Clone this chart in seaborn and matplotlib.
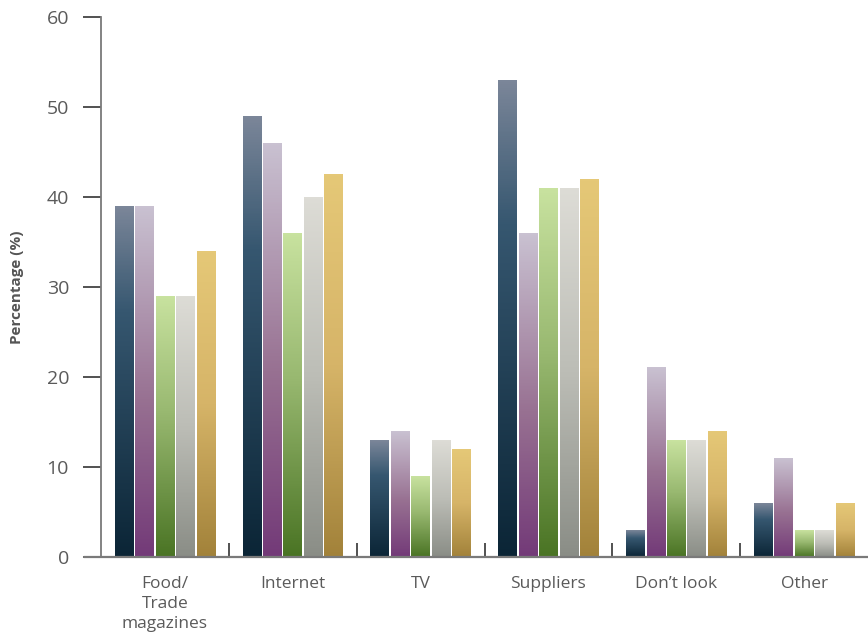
import numpy as np
import pandas as pd
import matplotlib
matplotlib.use("Agg")
import matplotlib.pyplot as plt
import seaborn as sns
from matplotlib.colors import LinearSegmentedColormap
from matplotlib.lines import Line2D

# ---- data ----
categories = ["Food/\nTrade\nmagazines", "Internet", "TV", "Suppliers", "Don\u2019t look", "Other"]
series_names = ["Series 1", "Series 2", "Series 3", "Series 4", "Series 5"]
series_1 = [39, 49, 13, 53, 3, 6]
series_2 = [39, 46, 14, 36, 21, 11]
series_3 = [29, 36, 9, 41, 13, 3]
series_4 = [29, 40, 13, 41, 13, 3]
series_5 = [34, 42.5, 12, 42, 14, 6]
yticks = [0, 10, 20, 30, 40, 50, 60]

# vertical gradient stops (top -> bottom) for each series
gradients = [
    [(0.0, "#7b8699"), (0.3, "#365770"), (1.0, "#0b2536")],
    [(0.0, "#c9c1d1"), (0.55, "#987192"), (1.0, "#733a78")],
    [(0.0, "#c8e29f"), (0.45, "#98b870"), (1.0, "#4a7424")],
    [(0.0, "#dddcd6"), (0.5, "#bcbdb6"), (1.0, "#8a8d86")],
    [(0.0, "#e5c877"), (0.5, "#d6b468"), (1.0, "#a2823a")],
]

values = [series_1, series_2, series_3, series_4, series_5]
df = pd.DataFrame({
    "category": np.tile(categories, len(series_names)),
    "series": np.repeat(series_names, len(categories)),
    "value": np.concatenate(values),
})

sns.set_style("white")
plt.rcParams["font.family"] = ["Open Sans", "DejaVu Sans"]

fig = plt.figure(figsize=(8.68, 6.39), dpi=100)
ax = fig.add_axes([101 / 868, 1 - 557 / 639, 767 / 868, (557 - 17) / 639])

base_palette = [g[-1][1] for g in gradients]
sns.barplot(data=df, x="category", y="value", hue="series", order=categories,
            hue_order=series_names, palette=base_palette, width=0.8,
            legend=False, ax=ax, errorbar=None)

# fill each bar with a top-to-bottom gradient, leaving a thin white gap between bars
gap = 0.0075
grad = np.linspace(0, 1, 600).reshape(-1, 1)
for container, stops in zip(ax.containers, gradients):
    cmap = LinearSegmentedColormap.from_list("g", stops)
    for bar in container:
        x0, y0 = bar.get_x(), bar.get_y()
        w, h = bar.get_width(), bar.get_height()
        ax.imshow(grad, cmap=cmap, aspect="auto", origin="upper",
                  extent=[x0 + gap, x0 + w - gap, y0, y0 + h], zorder=2,
                  interpolation="nearest")
        bar.set_facecolor("none")
        bar.set_edgecolor("none")

ax.set_xlim(-0.5, 5.5)
ax.set_ylim(0, 60)
ax.set_yticks(yticks)

for side in ["top", "right", "bottom"]:
    ax.spines[side].set_visible(False)
ax.spines["left"].set_color("#7a7a7a")
ax.spines["left"].set_linewidth(1.3)
ax.spines["left"].set_zorder(5)

# baseline extended slightly left of the y axis
ax.add_line(Line2D([-0.022, 1.0], [0, 0], transform=ax.get_yaxis_transform(),
                   color="#7a7a7a", lw=1.6, clip_on=False, zorder=6))

ax.tick_params(axis="y", which="major", direction="out", length=13, width=1.1,
               color="#222222", labelsize=14, labelcolor="#5a5a5a", pad=10, left=True)
ax.tick_params(axis="x", which="major", length=0, labelsize=12.5,
               labelcolor="#5a5a5a", pad=14)
ax.set_xticks(np.arange(0.5, 5.0, 1.0), minor=True)
ax.tick_params(axis="x", which="minor", direction="in", length=10, width=1.1,
               color="#222222", bottom=True)
for lbl in ax.get_xticklabels():
    lbl.set_linespacing(1.3)
    lbl.set_fontweight("medium")

ax.set_xlabel("")
ax.set_ylabel("Percentage (%)", fontsize=11, fontweight="bold", color="#555555")
ax.yaxis.set_label_coords(-0.101, 0.5)

fig.savefig("out.png", dpi=100)
